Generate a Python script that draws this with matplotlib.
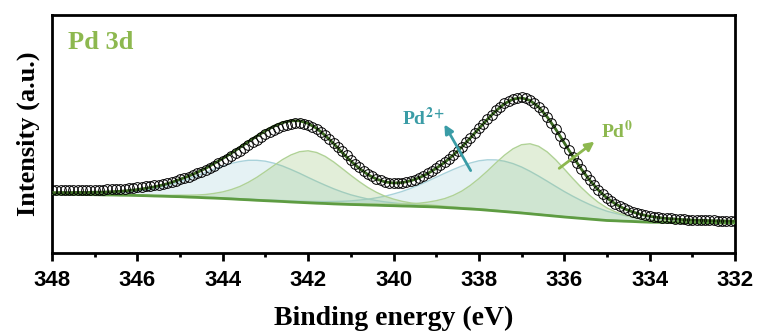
import numpy as np
import matplotlib
matplotlib.use('Agg')
import matplotlib.pyplot as plt
from matplotlib.ticker import MultipleLocator

# binding energy grids (eV): fit curves every 0.2 eV, raw data every 0.1 eV
energy_fit = np.round(np.arange(348.0, 331.9, -0.2), 1)
energy_data = np.round(np.arange(348.0, 331.95, -0.1), 1)

# Shirley-type background
background = [59.0, 58.9, 58.7, 58.6, 58.4, 58.3, 58.1, 58.0, 57.8, 57.7,
              57.5, 57.3, 57.0, 56.8, 56.5, 56.3, 55.9, 55.6, 55.2, 54.9,
              54.5, 54.1, 53.6, 53.2, 52.7, 52.3, 51.9, 51.5, 51.0, 50.6,
              50.2, 49.8, 49.5, 49.1, 48.8, 48.5, 48.3, 48.0, 47.8, 47.5,
              47.3, 47.0, 46.8, 46.5, 46.3, 46.0, 45.5, 45.0, 44.5, 44.0,
              43.5, 42.8, 42.1, 41.4, 40.7, 40.0, 39.2, 38.4, 37.6, 36.8,
              36.0, 35.3, 34.6, 33.9, 33.2, 32.5, 32.2, 31.8, 31.5, 31.1,
              30.8, 30.7, 30.6, 30.5, 30.3, 30.2, 30.2, 30.1, 30.1, 30.0,
              30.0]

# fitted components (height above background)
pd2_32 = [0.7, 0.8, 0.9, 1.1, 1.2, 1.5, 1.8, 2.2, 2.8, 3.6,
          4.6, 6.0, 7.7, 9.7, 12.2, 15.1, 18.3, 21.8, 25.4, 29.1,
          32.5, 35.5, 37.9, 39.5, 40.0, 39.5, 37.9, 35.5, 32.5, 29.1,
          25.4, 21.8, 18.3, 15.1, 12.2, 9.7, 7.7, 6.0, 4.6, 3.6,
          2.8, 2.2, 1.8, 1.5, 1.2, 1.1, 0.9, 0.8, 0.7, 0.7,
          0.6, 0.6, 0.5, 0.5, 0.5, 0.4, 0.4, 0.4, 0.4, 0.4,
          0.4, 0.3, 0.3, 0.3, 0.3, 0.3, 0.3, 0.3, 0.3, 0.3,
          0.3, 0.2, 0.2, 0.2, 0.2, 0.2, 0.2, 0.2, 0.2, 0.2,
          0.2]
pd0_32 = [0.3, 0.4, 0.4, 0.4, 0.4, 0.5, 0.5, 0.6, 0.6, 0.7,
          0.7, 0.8, 0.9, 1.0, 1.2, 1.5, 1.9, 2.4, 3.3, 4.7,
          6.6, 9.3, 12.9, 17.5, 23.0, 29.2, 35.6, 41.9, 47.1, 50.7,
          52.0, 50.7, 47.1, 41.9, 35.6, 29.2, 23.0, 17.5, 12.9, 9.3,
          6.6, 4.7, 3.3, 2.4, 1.9, 1.5, 1.2, 1.0, 0.9, 0.8,
          0.7, 0.7, 0.6, 0.6, 0.5, 0.5, 0.4, 0.4, 0.4, 0.4,
          0.3, 0.3, 0.3, 0.3, 0.3, 0.3, 0.2, 0.2, 0.2, 0.2,
          0.2, 0.2, 0.2, 0.2, 0.2, 0.2, 0.2, 0.2, 0.2, 0.2,
          0.2]
pd2_52 = [0.2, 0.2, 0.2, 0.3, 0.3, 0.3, 0.3, 0.3, 0.3, 0.3,
          0.4, 0.4, 0.4, 0.4, 0.4, 0.5, 0.5, 0.5, 0.5, 0.6,
          0.6, 0.6, 0.7, 0.7, 0.8, 0.8, 0.9, 1.0, 1.1, 1.2,
          1.4, 1.7, 1.9, 2.4, 2.9, 3.6, 4.6, 5.8, 7.4, 9.3,
          11.7, 14.5, 17.8, 21.5, 25.5, 29.8, 34.2, 38.5, 42.5, 46.0,
          48.7, 50.4, 51.0, 50.4, 48.7, 46.0, 42.5, 38.5, 34.2, 29.8,
          25.5, 21.5, 17.8, 14.5, 11.7, 9.3, 7.4, 5.8, 4.6, 3.6,
          2.9, 2.4, 1.9, 1.7, 1.4, 1.2, 1.1, 1.0, 0.9, 0.8,
          0.8]
pd0_52 = [0.1, 0.2, 0.2, 0.2, 0.2, 0.2, 0.2, 0.2, 0.2, 0.2,
          0.2, 0.2, 0.2, 0.2, 0.3, 0.3, 0.3, 0.3, 0.3, 0.3,
          0.3, 0.3, 0.4, 0.4, 0.4, 0.4, 0.5, 0.5, 0.5, 0.6,
          0.6, 0.6, 0.7, 0.8, 0.8, 0.9, 1.0, 1.1, 1.2, 1.4,
          1.6, 2.0, 2.5, 3.3, 4.5, 6.3, 8.9, 12.6, 17.4, 23.6,
          30.9, 39.2, 48.0, 56.4, 63.5, 68.3, 70.0, 68.3, 63.5, 56.4,
          48.0, 39.2, 30.9, 23.6, 17.4, 12.6, 8.9, 6.3, 4.5, 3.3,
          2.5, 2.0, 1.6, 1.4, 1.2, 1.1, 1.0, 0.9, 0.8, 0.8,
          0.7]

# measured spectrum (0.1 eV step)
measured = [62.9, 62.8, 62.9, 63.0, 63.1, 63.2, 63.1, 63.1, 63.3, 63.4,
            63.3, 63.3, 63.5, 63.6, 63.7, 63.9, 64.2, 64.5, 64.8, 65.2,
            65.6, 66.1, 66.6, 67.2, 67.8, 68.5, 69.3, 70.2, 71.2, 72.5,
            73.8, 75.1, 76.4, 78.0, 79.6, 81.3, 83.1, 85.3, 87.5, 89.7,
            91.9, 94.4, 96.9, 99.6, 102.4, 105.3, 108.1, 110.9, 113.5, 116.2,
            118.7, 121.1, 123.2, 125.3, 127.0, 128.3, 129.2, 129.7, 129.8, 129.2,
            128.1, 126.3, 124.0, 121.1, 117.9, 114.3, 110.5, 106.3, 101.9, 97.7,
            93.5, 89.5, 85.8, 82.3, 79.2, 76.6, 74.3, 72.6, 71.2, 70.4,
            69.9, 69.9, 70.2, 70.9, 72.0, 73.5, 75.3, 77.3, 79.6, 82.2,
            85.0, 87.9, 90.9, 94.5, 98.2, 102.1, 106.2, 110.8, 115.4, 120.1,
            124.8, 129.5, 134.0, 138.5, 142.6, 146.5, 149.8, 152.5, 154.5, 155.5,
            155.7, 154.8, 153.1, 150.0, 146.3, 141.6, 136.2, 130.1, 123.6, 116.7,
            109.8, 102.9, 96.3, 89.8, 83.8, 78.1, 72.8, 67.8, 63.2, 59.1,
            55.4, 52.2, 49.4, 46.8, 44.7, 42.9, 41.4, 40.0, 38.8, 37.9,
            37.1, 36.4, 35.8, 35.3, 34.9, 34.6, 34.3, 34.0, 33.7, 33.4,
            33.2, 33.1, 33.0, 32.9, 32.8, 32.6, 32.5, 32.4, 32.3, 32.2,
            32.2]

bg = np.array(background)
envelope = bg + np.array(pd2_32) + np.array(pd0_32) + np.array(pd2_52) + np.array(pd0_52)

serif = 'Liberation Serif'
sans = 'Liberation Sans'
c_pd2 = '#3a9ca6'
c_pd0 = '#8db84f'

fig = plt.figure(figsize=(7.62, 3.36), dpi=100)
ax = fig.add_axes([52 / 762, 83 / 336, 683 / 762, 238 / 336])

# component fills
for comp in (pd2_32, pd2_52):
    top = bg + np.array(comp)
    ax.fill_between(energy_fit, bg, top, color='#7fbfcc', alpha=0.2, lw=0, zorder=1)
    ax.plot(energy_fit, top, color='#a9d2da', lw=1.0, zorder=2)
for comp in (pd0_32, pd0_52):
    top = bg + np.array(comp)
    ax.fill_between(energy_fit, bg, top, color='#8fbf6a', alpha=0.25, lw=0, zorder=2)
    ax.plot(energy_fit, top, color='#b0d296', lw=1.0, zorder=3)

ax.plot(energy_fit, bg, color='#5e9c42', lw=2.0, zorder=4)
ax.plot(energy_fit, envelope, color='#3c6a22', lw=2.0, zorder=5)
ax.plot(energy_data, measured, 'o', ms=7, mfc='none', mec='black', mew=0.7, zorder=6)

ax.annotate('', xy=(338.84, 131), xytext=(338.16, 80),
            arrowprops=dict(arrowstyle='-|>', color=c_pd2, lw=2, mutation_scale=13), zorder=7)
ax.text(339.3, 135, 'Pd$^{\\mathbf{2+}}$', color=c_pd2, fontsize=14, fontweight='bold',
        family=serif, ha='center', va='center', math_fontfamily='stix')
ax.annotate('', xy=(335.24, 113), xytext=(336.17, 83),
            arrowprops=dict(arrowstyle='-|>', color=c_pd0, lw=2, mutation_scale=13), zorder=7)
ax.text(334.77, 122, 'Pd$^{\\mathbf{0}}$', color=c_pd0, fontsize=14, fontweight='bold',
        family=serif, ha='center', va='center', math_fontfamily='stix')

ax.text(0.023, 0.885, 'Pd 3d', transform=ax.transAxes, color=c_pd0, fontsize=19,
        fontweight='bold', family=serif, ha='left', va='center')

ax.set_xlim(348, 332)
ax.set_ylim(0, 238)
ax.xaxis.set_major_locator(MultipleLocator(2))
ax.xaxis.set_minor_locator(MultipleLocator(1))
ax.set_yticks([])
ax.tick_params(axis='x', which='major', direction='out', length=6, width=2, pad=6)
ax.tick_params(axis='x', which='minor', direction='out', length=3, width=2)
for lab in ax.get_xticklabels():
    lab.set_family(sans)
    lab.set_fontweight('bold')
    lab.set_fontsize(16)
for sp in ax.spines.values():
    sp.set_linewidth(2.0)

ax.set_xlabel('Binding energy (eV)', family=serif, fontweight='bold', fontsize=20, labelpad=11)
ax.set_ylabel('Intensity (a.u.)', family=serif, fontweight='bold', fontsize=19, labelpad=9)

fig.savefig('out.png', dpi=100)
